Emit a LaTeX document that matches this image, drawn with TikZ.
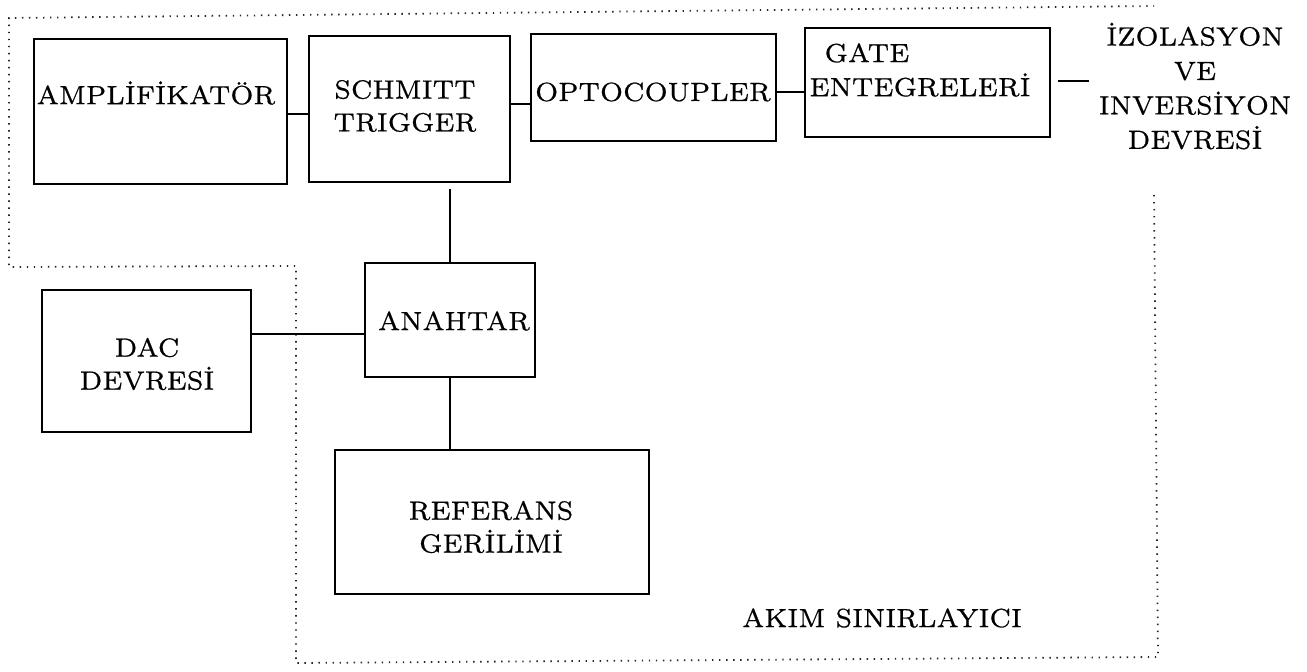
\documentclass[tikz,border=0pt]{standalone}
\usepackage{fontspec}
\newfontfamily\lmsev{lmroman7-regular.otf}[FakeBold=0.6]
\usetikzlibrary{fit}
\begin{document}
\begin{tikzpicture}[x=0.02cm,y=-0.02cm,
  box/.style={draw, line width=1.1pt, inner sep=0pt},
  txt/.style={inner sep=0pt, align=center, font=\lmsev\fontsize{15}{18.7}\selectfont},
  wire/.style={line width=0.9pt},
  dotline/.style={line width=1pt, dash pattern=on 0.8pt off 3.2pt, black!85}]
\useasboundingbox (0,0) rectangle (1307,672);
% dotted region outline
\draw[dotline] (1154,195) -- (1158,657) -- (296,663) -- (296,266) -- (9,267) -- (9,18) -- (1154,6);
% boxes
\node[box, fit={(34,39) (287,184)}] (amp) {};
\node[box, fit={(309,36) (510,182)}] (schmitt) {};
\node[box, fit={(531,34) (776,141)}] (opto) {};
\node[box, fit={(805,28) (1050,137)}] (gate) {};
\node[box, fit={(365,263) (535,377)}] (anahtar) {};
\node[box, fit={(42,290) (251,432)}] (dac) {};
\node[box, fit={(335,450) (649,594)}] (ref) {};
% texts
\node[txt] (ampT) at (156,93) {AMPLİFİKATÖR};
\node[txt] (schT) at (405,106) {SCHMITT\\TRIGGER};
\node[txt] (optT) at (653,92) {OPTOCOUPLER};
\node[txt] (gateT1) at (867,53) {GATE};
\node[txt] (gateT2) at (920,85) {ENTEGRELERİ};
\node[txt, font=\lmsev\fontsize{15}{19.6}\selectfont] (iso) at (1195,86) {İZOLASYON\\VE\\INVERSİYON\\DEVRESİ};
\node[txt] (anT) at (454,321) {ANAHTAR};
\node[txt] (dacT) at (147,364) {DAC\\DEVRESİ};
\node[txt] (refT) at (491,527) {REFERANS\\GERİLİMİ};
\node[txt] (akim) at (882,618) {AKIM SINIRLAYICI};
% connectors
\coordinate (r1) at (0,114);
\coordinate (r2) at (0,104);
\coordinate (r3) at (0,92);
\coordinate (r4) at (0,81);
\coordinate (r5) at (0,334);
\draw[wire] (amp.east |- r1) -- (schmitt.west |- r1);
\draw[wire] (schmitt.east |- r2) -- (opto.west |- r2);
\draw[wire] (opto.east |- r3) -- (gate.west |- r3);
\draw[wire, shorten <=0.14cm, shorten >=0.18cm] (gate.east |- r4) -- (iso.west |- r4);
\draw[wire, shorten >=0.12cm] (anahtar.north) -- (anahtar.north |- schmitt.south);
\draw[wire] (anahtar.south) -- (anahtar.south |- ref.north);
\draw[wire] (dac.east |- r5) -- (anahtar.west |- r5);
\end{tikzpicture}
\end{document}
